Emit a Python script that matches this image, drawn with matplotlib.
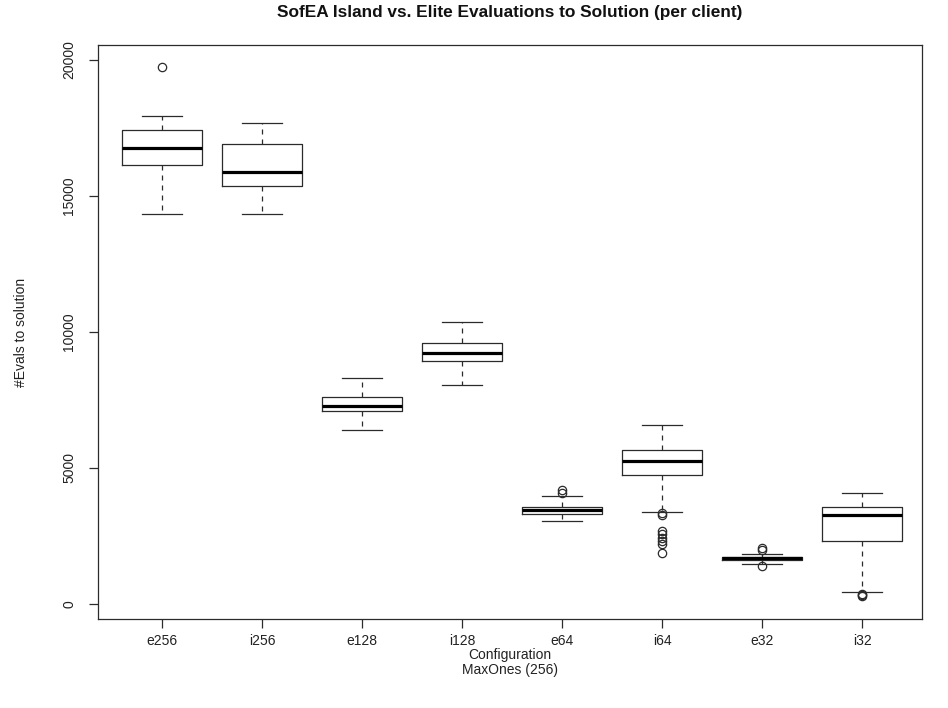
import matplotlib
matplotlib.use('Agg')
import matplotlib.pyplot as plt

# ---- data ----
categories = ['e256', 'i256', 'e128', 'i128', 'e64', 'i64', 'e32', 'i32']
whisker_low = [14340, 14340, 6372, 8029, 3050, 3360, 1451, 445]
quartile1 = [16120, 15359, 7096, 8924, 3300, 4740, 1625, 2290]
medians = [16770, 15863, 7281, 9208, 3435, 5230, 1670, 3262]
quartile3 = [17422, 16895, 7587, 9588, 3550, 5661, 1735, 3542]
whisker_high = [17912, 17668, 8299, 10350, 3955, 6582, 1819, 4072]
outliers = [
    [19717],
    [],
    [],
    [],
    [4090, 4180],
    [3330, 3260, 2690, 2560, 2420, 2290, 2200, 1880],
    [1990, 2060, 1380],
    [360, 330, 300],
]
yticks = [0, 5000, 10000, 15000, 20000]
ylimits = (-560, 20540)
xlimits = (0.36, 8.6)

title = 'SofEA Island vs. Elite Evaluations to Solution (per client)'
ylabel = '#Evals to solution'
xlabel1 = 'Configuration'
xlabel2 = 'MaxOnes (256)'

plt.rcParams['font.family'] = ['Liberation Sans', 'DejaVu Sans']

W, H = 948, 708
fig = plt.figure(figsize=(W / 100, H / 100), dpi=100)
left, right, top, bottom = 98, 922, 45, 619
ax = fig.add_axes([left / W, 1 - bottom / H, (right - left) / W, (bottom - top) / H])

lc = '#2b2b2b'
lw = 0.9

stats = []
for i, c in enumerate(categories):
    stats.append(dict(label=c, whislo=whisker_low[i], q1=quartile1[i], med=medians[i],
                      q3=quartile3[i], whishi=whisker_high[i], fliers=outliers[i]))

positions = list(range(1, len(categories) + 1))
ax.bxp(stats, positions=positions, widths=0.8, capwidths=0.4, showfliers=True,
       boxprops=dict(color=lc, linewidth=lw),
       medianprops=dict(color='black', linewidth=2.3, solid_capstyle='butt'),
       whiskerprops=dict(color=lc, linewidth=lw, linestyle=(0, (4, 4))),
       capprops=dict(color=lc, linewidth=lw),
       flierprops=dict(marker='o', markerfacecolor='none', markeredgecolor=lc,
                       markersize=6, markeredgewidth=0.9, linestyle='none'))

ax.set_ylim(*ylimits)
ax.set_xlim(*xlimits)

ax.set_xticks(positions)
ax.set_xticklabels(categories, fontsize=10)
ax.set_yticks(yticks)
ax.set_yticklabels([str(v) for v in yticks], fontsize=10, rotation=90, va='center')
ax.tick_params(axis='both', direction='out', length=6.5, width=lw, color=lc,
               labelcolor='#222222')
ax.tick_params(axis='x', pad=4.5)
ax.tick_params(axis='y', pad=9)
for s in ax.spines.values():
    s.set_color(lc)
    s.set_linewidth(lw)

cx = (left + right) / 2 / W
fig.text(cx, 1 - 13 / H, title, ha='center', va='center', fontsize=12.4,
         fontweight='bold', color='#111111')
fig.text(21 / W, 1 - ((top + bottom) / 2) / H, ylabel, ha='center', va='center',
         rotation=90, fontsize=10, color='#222222')
fig.text(cx, 1 - 655 / H, xlabel1, ha='center', va='center', fontsize=10, color='#222222')
fig.text(cx, 1 - 670 / H, xlabel2, ha='center', va='center', fontsize=10, color='#222222')

fig.savefig('out.png', dpi=100)
